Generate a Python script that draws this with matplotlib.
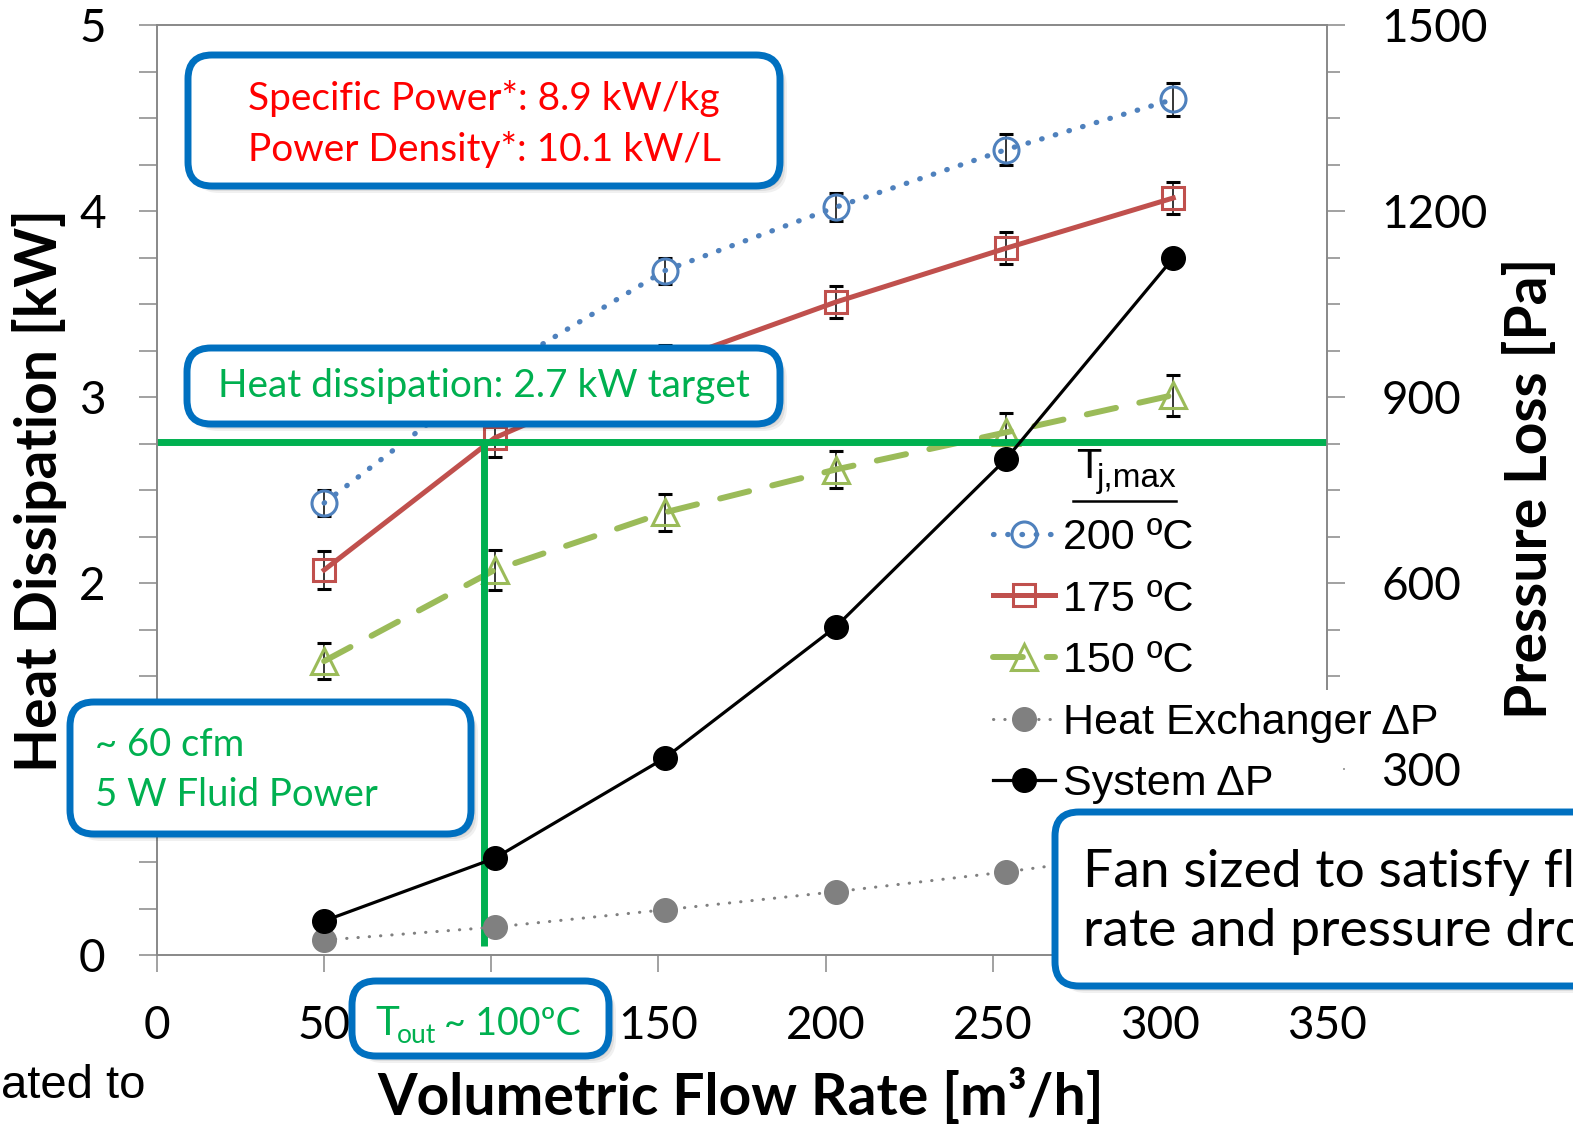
import matplotlib
matplotlib.use("Agg")
import matplotlib.pyplot as plt
from matplotlib.patches import FancyBboxPatch, Rectangle
from matplotlib.transforms import Affine2D
from matplotlib.lines import Line2D

W, H = 1573, 1130

# data
flow = [50, 101, 152, 203, 254, 304]          # m3/h
q_200 = [2.43, 3.13, 3.68, 4.02, 4.33, 4.60]  # kW, Tj,max = 200 C
q_175 = [2.07, 2.78, 3.18, 3.51, 3.80, 4.07]
q_150 = [1.58, 2.07, 2.38, 2.61, 2.81, 3.01]
err_200 = [0.07, 0.08, 0.07, 0.075, 0.085, 0.09]
err_175 = [0.10, 0.10, 0.10, 0.085, 0.085, 0.085]
err_150 = [0.095, 0.11, 0.10, 0.10, 0.105, 0.11]
dp_hx = [24, 45, 73, 102, 134, 170]            # Pa
dp_sys = [55, 156, 318, 529, 800, 1124]
target_kw = 2.76
target_flow = 97.8

blue, red, green, black, gray = "#4F81BD", "#C0504D", "#9BBB59", "black", "#808080"
tgt_green = "#00B050"
box_blue = "#0070C0"
calibri = ["Lato", "DejaVu Sans"]
arial = ["Liberation Sans", "DejaVu Sans"]

plt.rcParams["font.family"] = calibri

fig = plt.figure(figsize=(W / 100, H / 100), dpi=100)
px = Affine2D().scale(1, -1).translate(0, H)  # pixel coords, origin top-left

ax = fig.add_axes([157 / W, 1 - 955 / H, (1327 - 157) / W, (955 - 25) / H])
ax2 = ax.twinx()

eb = dict(ecolor="black", elinewidth=1.1, capsize=5, capthick=1.1, zorder=3)
l200 = ax.errorbar(flow, q_200, yerr=err_200, color=blue, lw=3.8, ls=(0, (0.1, 2.6)),
                   dash_capstyle="round", marker="o", ms=18, mfc="none", mew=2.2, **eb)
l175 = ax.errorbar(flow, q_175, yerr=err_175, color=red, lw=3.6, ls="-",
                   marker="s", ms=16, mfc="none", mew=2.2, **eb)
l150 = ax.errorbar(flow, q_150, yerr=err_150, color=green, lw=4.3, ls=(0, (5, 4)),
                   dash_capstyle="round", marker="^", ms=19, mfc="none", mew=2.2, **eb)

# 2.7 kW target lines
ax.plot([0, 350], [target_kw, target_kw], color=tgt_green, lw=5, zorder=4, solid_capstyle="butt")
ax.plot([target_flow, target_flow], [0.05, target_kw], color=tgt_green, lw=5, zorder=4,
        solid_capstyle="butt")

lhx, = ax2.plot(flow, dp_hx, color=gray, lw=2.2, ls=(0, (0.1, 3.6)), dash_capstyle="round",
                marker="o", ms=17, mfc=gray, mec=gray)
lsys, = ax2.plot(flow, dp_sys, color=black, lw=2.3, marker="o", ms=17)

ax.set_xlim(0, 350)
ax.set_ylim(0, 5)
ax2.set_ylim(0, 1500)
ax.set_xticks(range(0, 351, 50))
ax.set_yticks(range(0, 6))
ax.set_yticks([i * 0.25 for i in range(21)], minor=True)
ax2.set_yticks(range(0, 1501, 300))
ax2.set_yticks(range(0, 1501, 75), minor=True)
ax2.set_yticklabels(["", "300", "600", "900", "1200", "1500"])

for a in (ax, ax2):
    for s in a.spines.values():
        s.set_color("#888888")
        s.set_linewidth(1.2)
ax.tick_params(axis="x", direction="out", length=12, width=1.1, color="#888888",
               labelsize=33, pad=24)
ax.tick_params(axis="y", which="both", direction="out", length=13, width=1.1,
               color="#888888", labelsize=33, pad=24)
ax2.tick_params(axis="y", which="major", direction="out", length=13, width=1.1,
                color="#888888", labelsize=33, pad=26)
ax2.tick_params(axis="y", which="minor", direction="out", length=9, width=1.1, color="#888888")

fig.text(40 / W, 1 - 490 / H, "Heat Dissipation [kW]", rotation=90, ha="center", va="center",
         fontsize=41, fontweight="bold")
fig.text(1530 / W, 1 - 488 / H, "Pressure Loss [Pa]", rotation=90, ha="center", va="center",
         fontsize=41, fontweight="bold")
fig.text(741 / W, 1 - 1097 / H, "Volumetric Flow Rate [m³/h]", ha="center", va="center",
         fontsize=41, fontweight="bold")

# legend (white patch hides the spine behind the long labels)
ax2.add_artist(Rectangle((1058, 690), 285, 120, transform=px, facecolor="white",
                         edgecolor="none", zorder=4.5, clip_on=False))
ax2.add_artist(Rectangle((1300, 690), 143, 58, transform=px, facecolor="white",
                         edgecolor="none", zorder=4.5, clip_on=False))
leg = ax2.legend([l200[0], l175[0], l150[0], lhx, lsys],
                 ["200 ºC", "175 ºC", "150 ºC", "Heat Exchanger ΔP", "System ΔP"],
                 loc="upper left", bbox_to_anchor=(993 / W, 1 - 518 / H),
                 bbox_transform=fig.transFigure, frameon=False, borderpad=0,
                 borderaxespad=0, handlelength=1.45, handletextpad=0.17, labelspacing=0.5,
                 prop={"family": arial, "size": 31})
ax.text(1076, 478, "T", transform=px, fontsize=30, family=arial, ha="left", va="baseline",
        zorder=3.5)
fig.text(1097 / W, 1 - 487 / H, "j,max", fontsize=24, family=arial, ha="left", va="baseline")
fig.add_artist(Line2D([1073, 1176], [501, 501], transform=px, color="black", lw=1.8))


def callout(x0, y0, x1, y1):
    for off, alpha in [(7, 0.06), (5, 0.08), (3, 0.10)]:
        fig.add_artist(FancyBboxPatch((x0 + off, y0 + off), x1 - x0, y1 - y0,
                                      boxstyle="round,pad=0,rounding_size=24", transform=px,
                                      facecolor="black", edgecolor="none", alpha=alpha))
    fig.add_artist(FancyBboxPatch((x0, y0), x1 - x0, y1 - y0,
                                  boxstyle="round,pad=0,rounding_size=24", transform=px,
                                  facecolor="white", edgecolor=box_blue, lw=5))


callout(188, 55, 780, 186)
fig.text(484 / W, 1 - 124 / H, "Specific Power*: 8.9 kW/kg\nPower Density*: 10.1 kW/L",
         color="red", fontsize=28, ha="center", va="center", linespacing=1.45)

callout(187, 348, 780, 424)
fig.text(484 / W, 1 - 386 / H, "Heat dissipation: 2.7 kW target", color=tgt_green,
         fontsize=28, ha="center", va="center")

callout(70, 702, 471, 834)
fig.text(95 / W, 1 - 770 / H, "~ 60 cfm\n5 W Fluid Power", color=tgt_green, fontsize=27.5,
         ha="left", va="center", linespacing=1.45)

callout(352, 981, 609, 1056)
fig.text(375 / W, 1 - 1035 / H, "T", color=tgt_green, fontsize=29, ha="left", va="baseline")
fig.text(397 / W, 1 - 1043 / H, "out", color=tgt_green, fontsize=19, ha="left", va="baseline")
fig.text(444 / W, 1 - 1035 / H, "~ 100ºC", color=tgt_green, fontsize=27, ha="left",
         va="baseline")

callout(1055, 812, 1700, 986)
fig.text(1083 / W, 1 - 902 / H, "Fan sized to satisfy flow\nrate and pressure drop",
         color="black", fontsize=38.5, ha="left", va="center", linespacing=1.3)

# slide text cut off at the edges
fig.text(146 / W, 1 - 1086 / H, "Calculated to", family=arial, fontsize=34, ha="right",
         va="center")

fig.savefig("out.png", dpi=100)
